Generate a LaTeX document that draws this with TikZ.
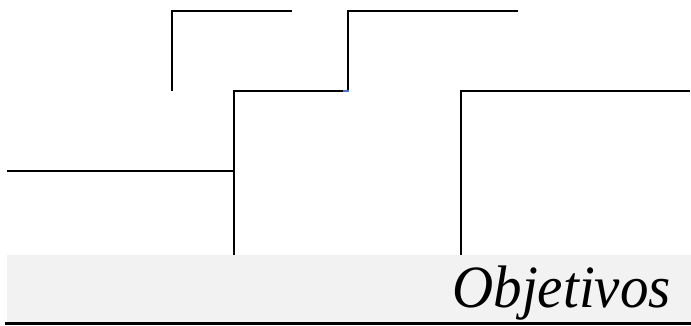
\documentclass[tikz,border=0pt]{standalone}
\usepackage{fontspec}
\setmainfont{Liberation Serif}
\definecolor{bandgray}{HTML}{F2F2F2}
\definecolor{markblue}{HTML}{4472C4}
\tikzset{
  bone/.style={draw=black, line width=1.6pt, line cap=rect},
  band/.style={fill=bandgray, draw=none},
  title/.style={font=\fontsize{60}{60}\selectfont\itshape, inner sep=0pt, anchor=base east, xscale=0.95}
}
\begin{document}
\begin{tikzpicture}[x=1pt,y=-1pt]
\useasboundingbox (0,0) rectangle (691,326);
% band
\fill[band] (7,255) rectangle (691,322);
\node[title] (obj) at (671,307) {Objetivos};
\draw[line width=2.2pt] (5,323.5) -- (691,323.5);
% coordinates
\coordinate (a1) at (291,11);
\coordinate (a2) at (172,11);
\coordinate (a3) at (172,90);
\coordinate (b1) at (517,11);
\coordinate (b2) at (348,11);
\coordinate (b3) at (348,91);
\coordinate (b4) at (234,91);
\coordinate (b5) at (234,254);
\coordinate (h1) at (8,171);
\coordinate (h2) at (234,171);
\coordinate (c1) at (689,91);
\coordinate (c2) at (461,91);
\coordinate (c3) at (461,254);
\draw[bone] (a1) -- (a2) -- (a3);
\draw[bone] (b1) -- (b2) -- (b3) -- (b4) -- (b5);
\draw[bone] (h1) -- (h2);
\draw[bone] (c1) -- (c2) -- (c3);
\draw[markblue, line width=1.6pt] (343,91) -- (349,91);
\end{tikzpicture}
\end{document}
